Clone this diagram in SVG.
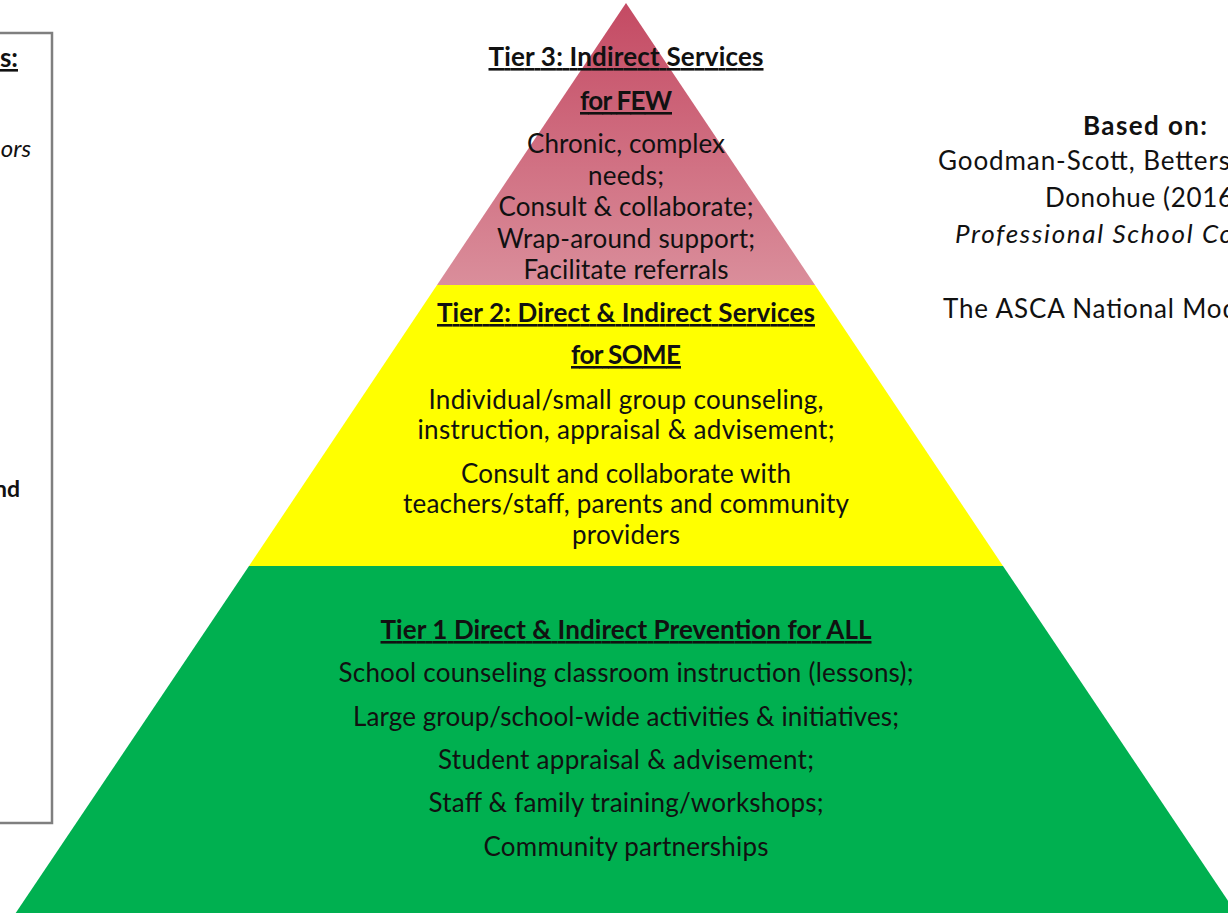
<svg xmlns="http://www.w3.org/2000/svg" width="1228" height="913" viewBox="0 0 1228 913">
  <style>
    text { font-family: Lato, "Open Sans", "Liberation Sans", sans-serif; fill: #111111; font-size: 26px; }
    .c { text-anchor: middle; }
    .h { font-weight: bold; text-decoration: underline; }
    .b { font-weight: bold; }
    .i { font-style: italic; }
  </style>
  <defs>
    <linearGradient id="redGrad" x1="0" y1="0" x2="0" y2="1">
      <stop offset="0" stop-color="#c44a63"/>
      <stop offset="1" stop-color="#da8e9b"/>
    </linearGradient>
  </defs>
  <rect width="1228" height="913" fill="#ffffff"/>

  <text x="750" y="-8" class="c" style="font-size:40px;fill:#404040">g</text>

  <g id="left-box">
    <rect x="-10" y="33" width="62" height="790" fill="#ffffff" stroke="#7f7f7f" stroke-width="2.5"/>
    <text x="18" y="67" class="h" text-anchor="end">s:</text>
    <text x="31" y="157" class="i" text-anchor="end" style="font-size:24px">ors</text>
    <text x="20" y="497" class="b" text-anchor="end" style="font-size:23px">nd</text>
  </g>

  <g id="tier3">
    <polygon points="626,3 815,285 437,285" fill="url(#redGrad)"/>
    <text x="626" y="66" class="c h" textLength="275">Tier 3: Indirect Services</text>
    <text x="626" y="110" class="c h" textLength="92">for FEW</text>
    <text x="626" y="153" class="c" textLength="198">Chronic, complex</text>
    <text x="626" y="185" class="c" textLength="76">needs;</text>
    <text x="626" y="216" class="c" textLength="255">Consult &amp; collaborate;</text>
    <text x="626" y="248" class="c" textLength="258">Wrap-around support;</text>
    <text x="626" y="279" class="c" textLength="205">Facilitate referrals</text>
  </g>

  <g id="tier2">
    <polygon points="437,285 815,285 1003,566 249,566" fill="#ffff00"/>
    <text x="626" y="322" class="c h" textLength="378">Tier 2: Direct &amp; Indirect Services</text>
    <text x="626" y="364" class="c h" textLength="110">for SOME</text>
    <text x="626" y="409" class="c" textLength="395">Individual/small group counseling,</text>
    <text x="626" y="439" class="c" textLength="417">instruction, appraisal &amp; advisement;</text>
    <text x="626" y="483" class="c" textLength="330">Consult and collaborate with</text>
    <text x="626" y="513" class="c" textLength="446">teachers/staff, parents and community</text>
    <text x="626" y="544" class="c" textLength="108">providers</text>
  </g>

  <g id="tier1">
    <polygon points="249,566 1003,566 1241,920 11,920" fill="#00b050"/>
    <text x="626" y="639" class="c h" textLength="491">Tier 1 Direct &amp; Indirect Prevention for ALL</text>
    <text x="626" y="682" class="c" textLength="575">School counseling classroom instruction (lessons);</text>
    <text x="626" y="726" class="c" textLength="546">Large group/school-wide activities &amp; initiatives;</text>
    <text x="626" y="769" class="c" textLength="376">Student appraisal &amp; advisement;</text>
    <text x="626" y="812" class="c" textLength="395">Staff &amp; family training/workshops;</text>
    <text x="626" y="856" class="c" textLength="285">Community partnerships</text>
  </g>

  <g id="based-on">
    <text x="1145" y="135" class="c b" textLength="124">Based on:</text>
    <text x="938" y="170" textLength="292">Goodman-Scott, Betters</text>
    <text x="1045" y="207" textLength="188">Donohue (2016</text>
    <text x="955" y="243" class="i" textLength="278">Professional School Co</text>
    <text x="943" y="318" textLength="294">The ASCA National Mod</text>
  </g>

  <g id="connectors"></g>
</svg>
